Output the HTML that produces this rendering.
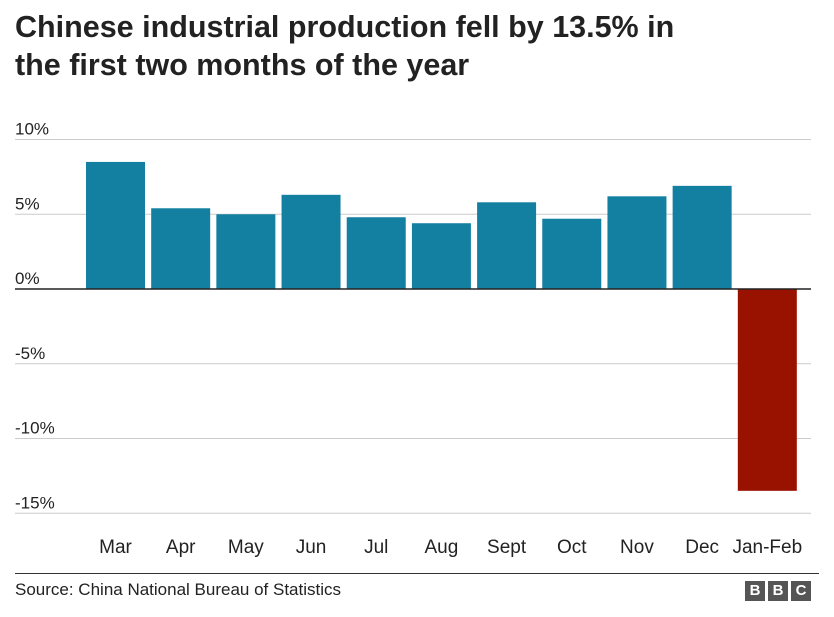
<!DOCTYPE html>
<html><head><meta charset="utf-8">
<style>
body{margin:0;width:834px;height:617px;background:#fff;font-family:"Liberation Sans",Arial,sans-serif;overflow:hidden;position:relative}
h1{position:absolute;left:15px;top:8px;margin:0;font-size:30.5px;line-height:38px;font-weight:bold;color:#222}
#src{position:absolute;left:15px;top:580px;font-size:17px;color:#222}
#rule{position:absolute;left:15px;top:573px;width:804px;height:1px;background:#333}
#bbc{position:absolute;left:745px;top:581px;display:flex;gap:3px}
#bbc div{width:20px;height:20px;background:#555;color:#fff;font-weight:bold;font-size:15px;line-height:20px;text-align:center}
</style></head><body>
<h1>Chinese industrial production fell by 13.5% in<br>the first two months of the year</h1>
<svg id="chart" width="834" height="570" style="position:absolute;left:0;top:0"></svg>
<div id="rule"></div>
<div id="src">Source: China National Bureau of Statistics</div>
<div id="bbc"><div>B</div><div>B</div><div>C</div></div>
<script>
const categories=["Mar","Apr","May","Jun","Jul","Aug","Sept","Oct","Nov","Dec","Jan-Feb"];
const values=[8.5,5.4,5.0,6.3,4.8,4.4,5.8,4.7,6.2,6.9,-13.5];
const ticks=[10,5,0,-5,-10,-15];
const tickLabels=["10%","5%","0%","-5%","-10%","-15%"];
const svg=document.getElementById('chart');
const NS='http://www.w3.org/2000/svg';
const y=v=>289-v*14.95;
const x0=86,x1=803,step=(x1-x0)/categories.length,bw=59;
const x=i=>x0+i*step;
function mk(t,a){const e=document.createElementNS(NS,t);for(const k in a)e.setAttribute(k,a[k]);svg.appendChild(e);return e;}
ticks.forEach((t,i)=>{
  if(t!==0){const g=mk('line',{x1:15,x2:811,y1:y(t),y2:y(t),stroke:'#ccc','stroke-width':1});
  
  }
  const l=mk('text',{x:15,y:y(t)-5,'font-size':17,fill:'#222'});
  
  
  l.textContent=tickLabels[i];
});
values.forEach((v,i)=>{
  const r=mk('rect',{x:x(i),y:Math.min(y(v),y(0)),width:bw,height:Math.abs(y(v)-y(0)),fill:v<0?'#991200':'#1380a1'});
  
  
  const t=mk('text',{x:x(i)+bw/2,y:553,'font-size':19,fill:'#222','text-anchor':'middle'});
  
  
  t.textContent=categories[i];
});
const z=mk('line',{x1:15,x2:811,y1:y(0),y2:y(0),stroke:'#222','stroke-width':1.5});


</script>
</body></html>
